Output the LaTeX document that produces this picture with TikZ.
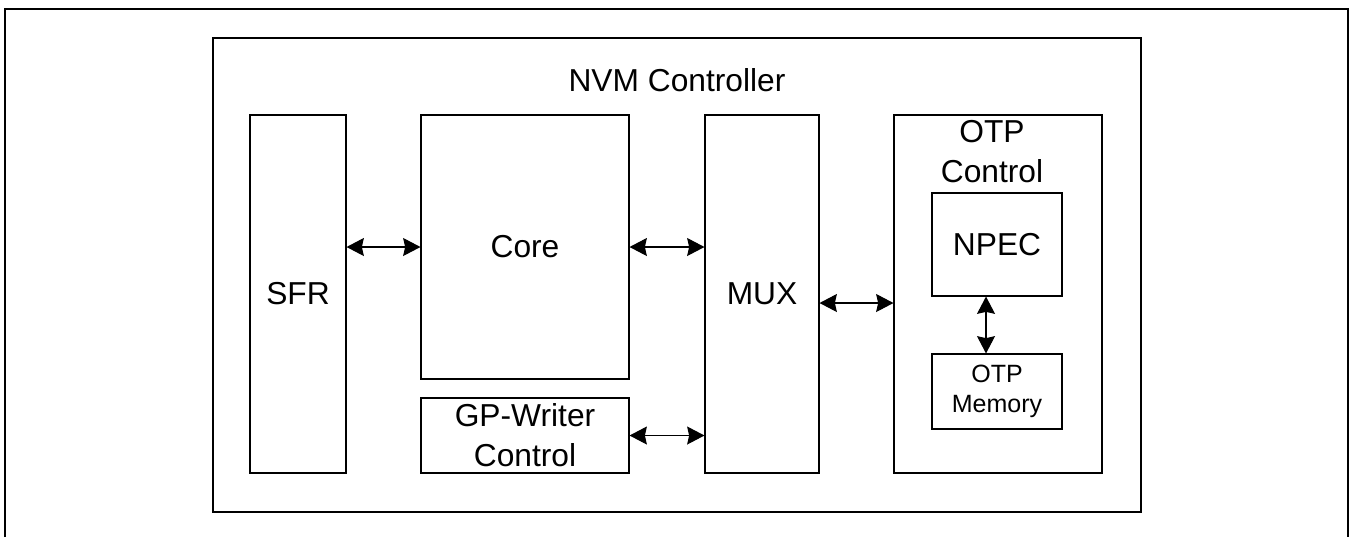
\documentclass[tikz,border=0pt]{standalone}
\usepackage{fontspec}
\setmainfont{Liberation Sans}
\usetikzlibrary{arrows.meta}

\tikzset{
    blk/.style={draw, line width=0.8pt, inner sep=0pt, align=center, font=\fontsize{23.8}{30}\selectfont},
    small/.style={font=\fontsize{18.75}{23}\selectfont},
    biarrow/.style={{Stealth[length=13pt,width=13.5pt,inset=1.5pt]}-{Stealth[length=13pt,width=13.5pt,inset=1.5pt]}, line width=0.8pt}
}

\begin{document}
\begin{tikzpicture}[x=0.75pt, y=-0.75pt]
    \useasboundingbox (0,0) rectangle (1351,537);

    % frame, open at the bottom
    \draw[line width=1.1pt] (5,537) -- (5,9) -- (1348,9) -- (1348,537);

    \node[blk, minimum width=928*0.75pt, minimum height=474*0.75pt] (NVM) at (677,275) {};
    \node[font=\fontsize{23.8}{30}\selectfont] (title) at (677,80) {NVM Controller};

    \node[blk, minimum width=96*0.75pt, minimum height=358*0.75pt] (SFR) at (298,294) {SFR};
    \node[blk, minimum width=208*0.75pt, minimum height=264*0.75pt] (Core) at (525,247) {Core};
    \node[blk, minimum width=208*0.75pt, minimum height=75*0.75pt] (GP) at (525,435.5) {GP-Writer\\Control};
    \node[blk, minimum width=114*0.75pt, minimum height=358*0.75pt] (MUX) at (762,294) {MUX};
    \node[blk, minimum width=208*0.75pt, minimum height=358*0.75pt] (OTPctl) at (998,294) {};
    \node[font=\fontsize{23.8}{30}\selectfont, align=center] (OTPlbl) at (992,152) {OTP\\Control};
    \node[blk, minimum width=130*0.75pt, minimum height=103*0.75pt] (NPEC) at (997,244.5) {NPEC};
    \node[blk, small, minimum width=130*0.75pt, minimum height=75*0.75pt] (OTPmem) at (997,391.5) {OTP\\Memory};

    \draw[biarrow] (SFR.east |- Core.west) -- (Core.west);
    \draw[biarrow] (Core.east) -- (MUX.west |- Core.east);
    \draw[biarrow] (GP.east) -- (MUX.west |- GP.east);
    \draw[biarrow] ([yshift=-6.75pt]MUX.east) -- ([yshift=-6.75pt]OTPctl.west);
    \draw[biarrow] ([xshift=-8.25pt]NPEC.south) -- ([xshift=-8.25pt]OTPmem.north);
\end{tikzpicture}
\end{document}
